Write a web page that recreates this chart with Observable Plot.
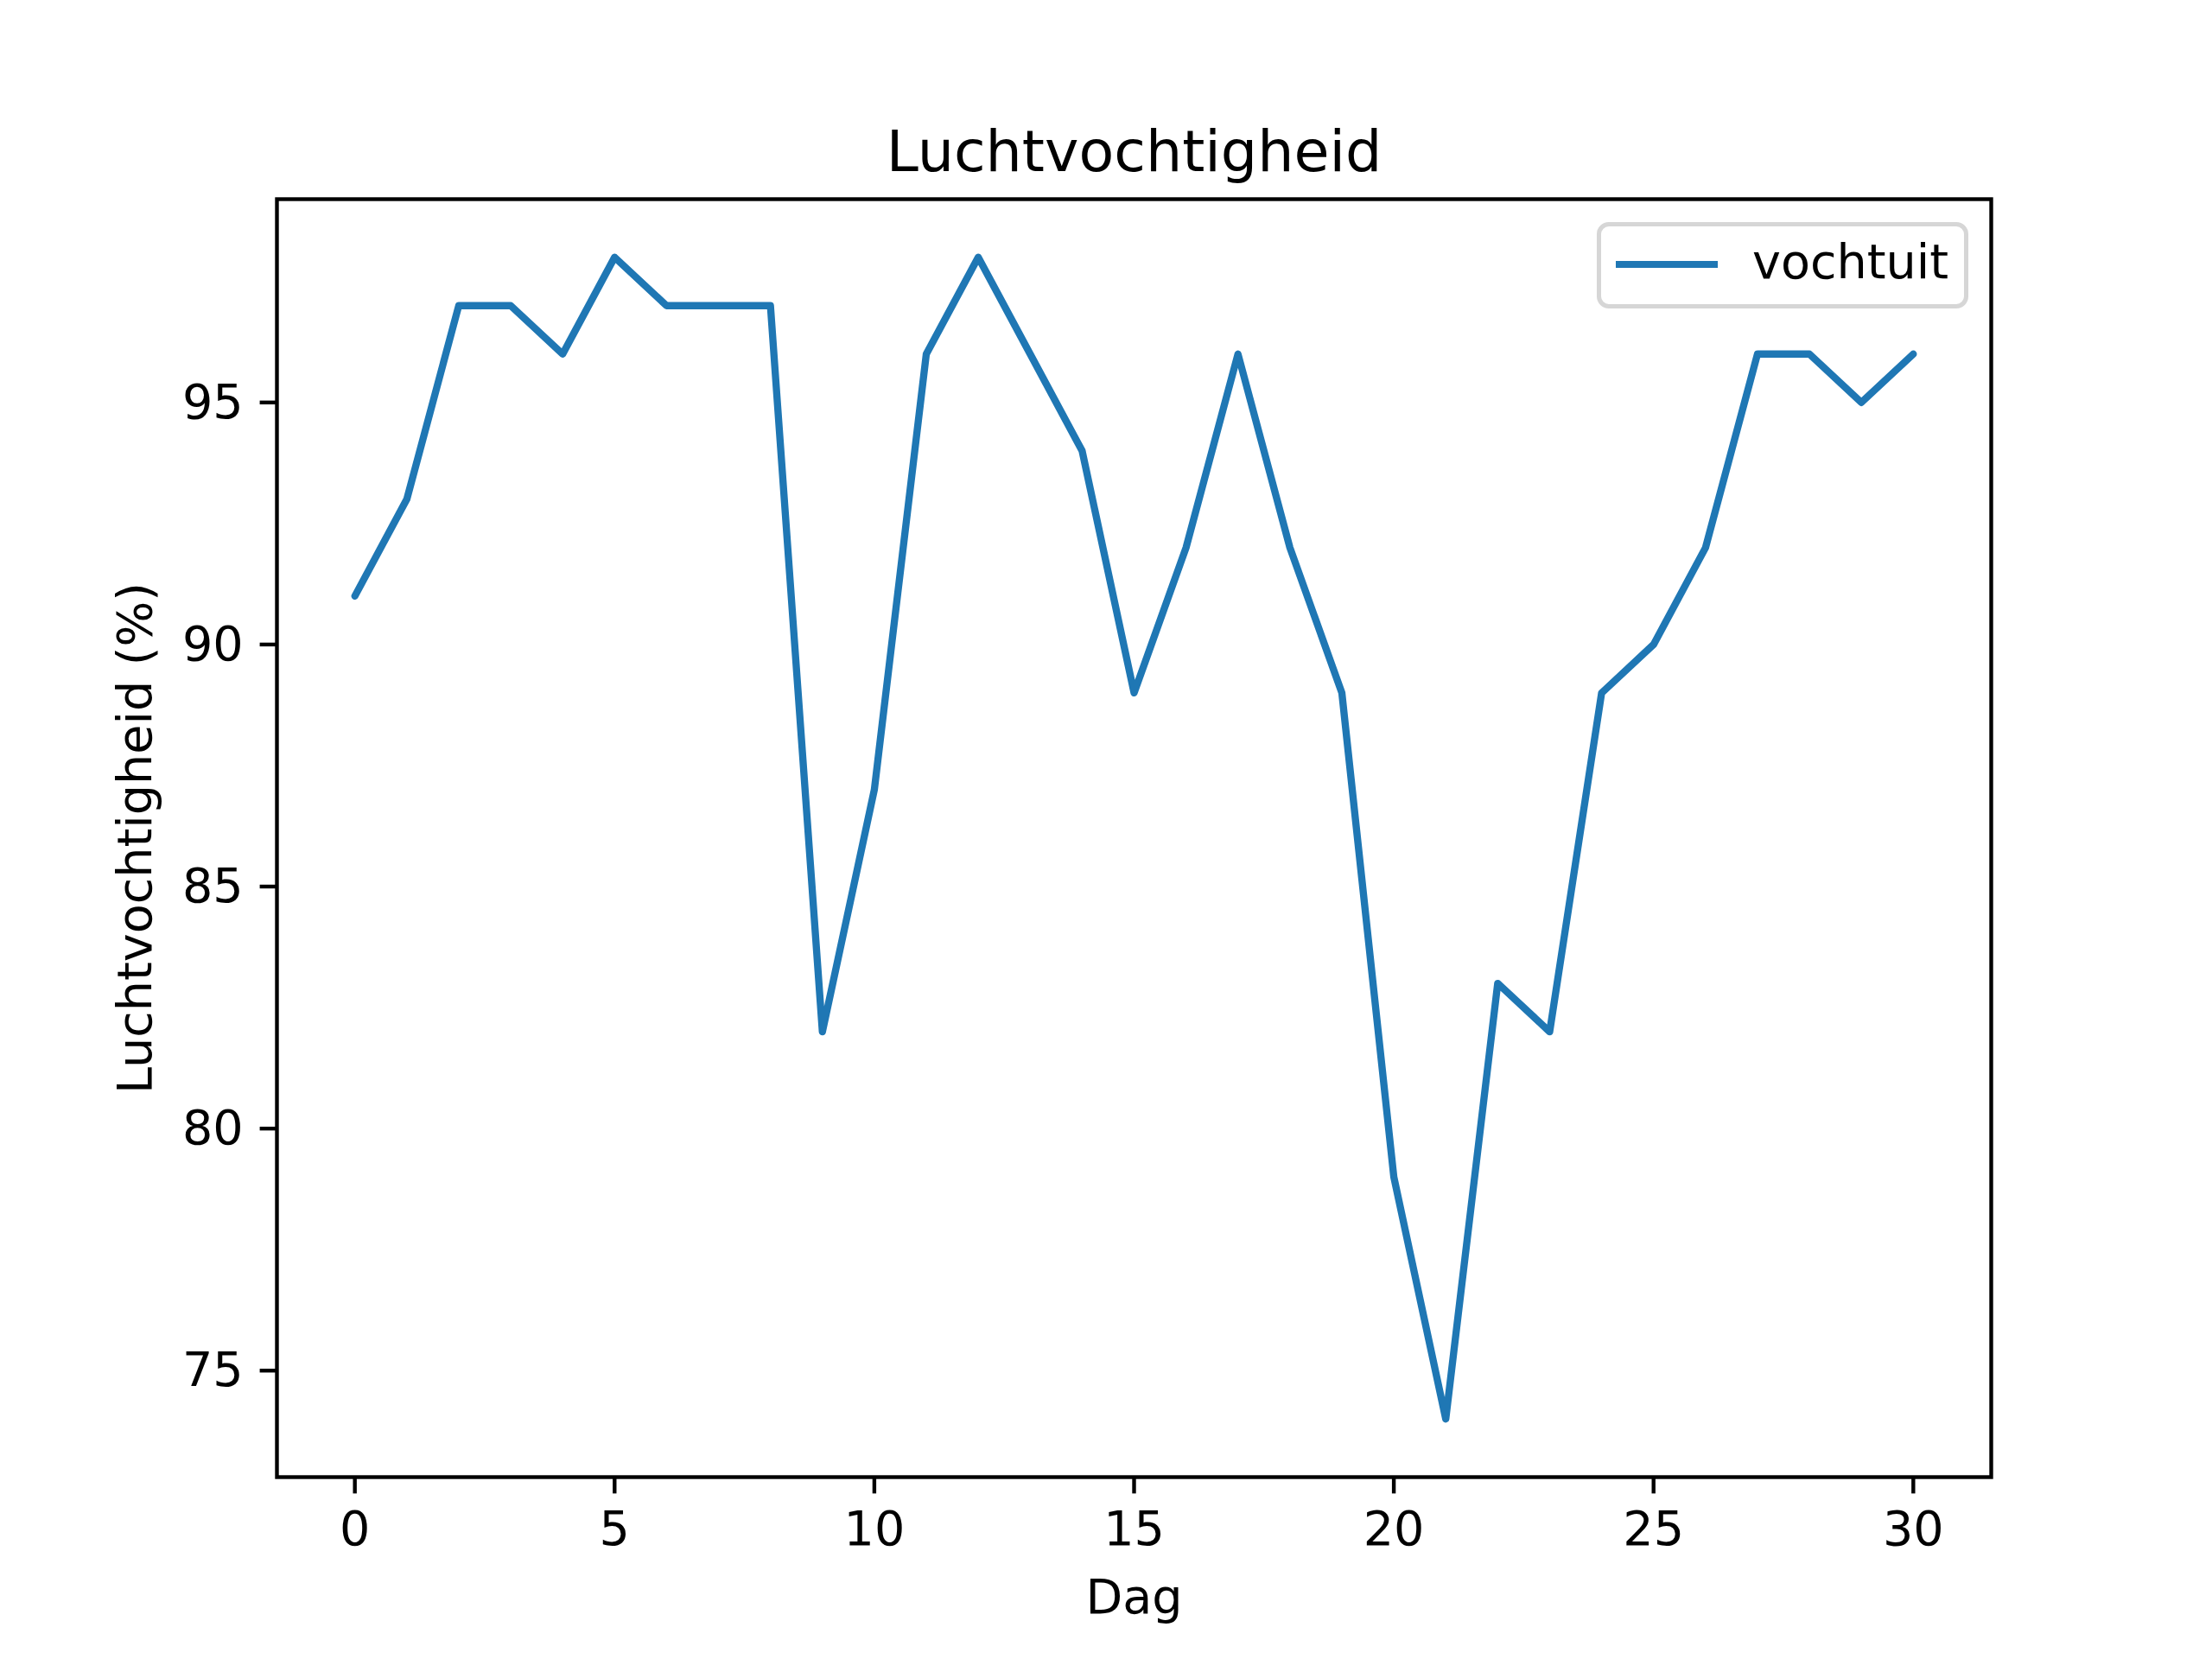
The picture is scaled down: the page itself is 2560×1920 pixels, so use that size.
<!DOCTYPE html>
<html lang="nl">
<head>
<meta charset="UTF-8">
<script src="https://cdn.jsdelivr.net/npm/d3@7"></script>
<script src="https://cdn.jsdelivr.net/npm/@observablehq/plot@0.6"></script>
<style>
  body { margin: 0; background: white; font-family: "DejaVu Sans", sans-serif; }
  #wrap { position: relative; width: 2560px; height: 1920px; }
  #legend {
    position: absolute; left: 1848px; top: 257px; width: 420px; height: 90px;
    border: 5px solid #d6d6d6; border-radius: 14px; background: rgba(255,255,255,0.8);
  }
  #legend .swatch { position: absolute; left: 17px; top: 40px; width: 118px; height: 8px; background: #1f77b4; }
  #legend .lab { position: absolute; left: 175px; top: 6px; font-size: 55.6px; line-height: 70px; color: #000; }
</style>
</head>
<body>
<div id="wrap">
  <div id="plot"></div>
  <div id="legend"><div class="swatch"></div><div class="lab">vochtuit</div></div>
</div>
<script>
  // humidity per day
  const days = d3.range(0, 31);
  const vochtuit = [91, 93, 97, 97, 96, 98, 97, 97, 97, 82, 87, 96, 98, 96, 94, 89,
                    92, 96, 92, 89, 79, 74, 83, 82, 89, 90, 92, 96, 96, 95, 96];
  const xTicks = [0, 5, 10, 15, 20, 25, 30];
  const yTicks = [75, 80, 85, 90, 95];

  const data = days.map((d, i) => ({dag: d, vocht: vochtuit[i]}));

  const fs = 55.6;
  const plot = Plot.plot({
    width: 2560,
    height: 1920,
    marginLeft: 320,
    marginRight: 256,
    marginTop: 230,
    marginBottom: 211,
    style: {fontFamily: "DejaVu Sans", background: "white"},
    x: {domain: [-1.5, 31.5]},
    y: {domain: [72.8, 99.2]},
    marks: [
      Plot.axisX(xTicks, {tickSize: 19.4, tickPadding: 19.4, fontSize: fs, strokeWidth: 4.4, label: null, color: "black", tickFormat: "d"}),
      Plot.axisY(yTicks, {tickSize: 19.4, tickPadding: 19.4, fontSize: fs, strokeWidth: 4.4, label: null, color: "black", tickFormat: "d"}),
      Plot.lineY(data, {x: "dag", y: "vocht", stroke: "#1f77b4", strokeWidth: 8.33}),
      Plot.frame({stroke: "black", strokeWidth: 4.4}),
      Plot.text(["Luchtvochtigheid"], {frameAnchor: "top", lineAnchor: "bottom", dy: -33, fontSize: 66.7, fill: "black"}),
      Plot.text(["Dag"], {frameAnchor: "bottom", lineAnchor: "middle", dy: 140, fontSize: fs, fill: "black"}),
      Plot.text(["Luchtvochtigheid (%)"], {frameAnchor: "left", textAnchor: "middle", lineAnchor: "middle", rotate: -90, dx: -163, fontSize: fs, fill: "black"})
    ]
  });
  document.querySelector("#plot").append(plot);
</script>
</body>
</html>
